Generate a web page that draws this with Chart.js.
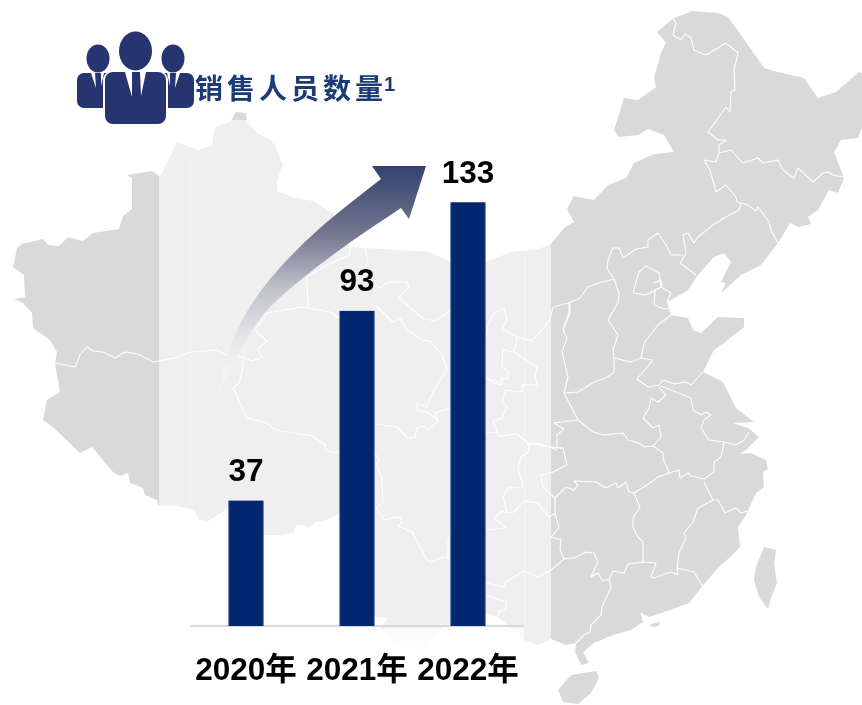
<!DOCTYPE html>
<html>
<head>
<meta charset="utf-8">
<script src="https://cdn.jsdelivr.net/npm/chart.js@4/dist/chart.umd.js"></script>
<style>
  body { margin: 0; background: #fff; }
  #wrap { position: relative; width: 862px; height: 705px; overflow: hidden; }
  #title { position: absolute; left: 195px; top: 68px; color: #1b3a78; white-space: nowrap;
           font: bold 28px "Noto Sans CJK SC", sans-serif; letter-spacing: 4px; line-height: 38px; }
  #title sup { position: absolute; left: 189px; top: 5px; font: bold 20px "Liberation Sans", sans-serif; letter-spacing: 0; }
</style>
</head>
<body>
<div id="wrap">
  <canvas id="salesChart" width="862" height="705"></canvas>
  <div id="title">销售人员数量<sup>1</sup></div>
</div>
<script>
const years = ['2020年', '2021年', '2022年'];
// bar lengths as they are drawn in the picture (the 2022 bar is shorter than its printed number)
const barLengths = [37, 93, 125];
const printedValues = ['37', '93', '133'];

//******************************************************************************
//  Background map, traced by eye: decoration only, not data
//******************************************************************************
const mapOutline = [[230,122],[236,112],[246,113],[247,122],[257,133],[270,140],[275,145],[283,165],[277,180],[277,191],[295,198],[313,201],[333,214],[350,247],[365,248],[430,252],[450,262],[486,262],[511,252],[538,249],[551,244],[564,228],[574,222],[567,209],[574,196],[594,200],[608,185],[626,178],[634,163],[654,154],[674,152],[664,135],[648,129],[638,135],[619,137],[614,130],[624,98],[638,100],[656,87],[654,78],[661,53],[666,43],[657,32],[674,18],[693,11],[718,13],[728,17],[741,35],[764,68],[778,72],[804,78],[818,98],[836,92],[859,72],[862,73],[862,127],[858,138],[841,140],[834,152],[844,178],[838,193],[829,190],[818,210],[808,217],[811,224],[799,227],[790,223],[778,243],[761,265],[741,275],[721,293],[726,283],[721,282],[731,262],[724,253],[714,257],[698,275],[688,290],[676,297],[667,302],[671,315],[688,318],[693,330],[701,333],[718,317],[744,318],[744,327],[724,343],[714,350],[703,372],[723,382],[736,408],[754,422],[733,423],[748,428],[759,437],[746,450],[739,454],[751,453],[766,460],[768,469],[763,472],[764,487],[756,493],[746,515],[738,527],[740,547],[729,558],[716,570],[701,588],[689,603],[678,607],[661,613],[649,617],[640,612],[643,622],[631,630],[613,635],[594,643],[583,652],[589,663],[581,665],[575,652],[576,643],[566,645],[551,639],[538,645],[524,640],[514,630],[498,617],[488,614],[470,618],[445,625],[432,640],[425,655],[410,648],[398,648],[385,635],[380,628],[388,618],[375,617],[372,600],[340,514],[323,521],[315,522],[308,528],[305,525],[297,525],[293,533],[280,535],[264,535],[240,530],[228,508],[207,522],[198,519],[195,510],[173,505],[158,506],[157,500],[145,495],[143,488],[130,483],[128,473],[120,476],[113,472],[92,447],[80,453],[55,429],[43,420],[47,400],[60,392],[55,363],[57,352],[50,340],[33,328],[32,313],[23,303],[14,299],[25,297],[24,275],[13,267],[17,248],[22,244],[43,239],[48,245],[59,246],[68,237],[83,241],[93,233],[119,229],[123,216],[132,209],[132,178],[127,175],[152,171],[159,176],[163,171],[177,142],[198,150],[212,146],[215,127]];
const mapIslands = [
  [[764,547],[776,550],[774,563],[777,583],[771,598],[768,609],[759,597],[754,580],[756,567]],
  [[558,690],[571,675],[596,671],[599,678],[591,693],[578,704],[563,702]],
  [[650,624],[660,622],[659,626],[652,627]]
];
const mapBorders = [
  [[55,363],[75,367],[80,355],[87,347],[93,351],[103,352],[115,358],[125,352],[138,354],[153,362],[175,358],[190,352],[217,350],[227,355],[242,357],[252,361],[263,357],[257,350],[267,341],[255,330],[267,313],[302,307],[330,312],[345,322]],
  [[308,306],[307,277],[327,265],[350,255],[350,247]],
  [[365,248],[368,263],[365,277],[380,288],[388,282],[407,282],[409,287],[399,298],[413,310],[422,318],[435,321],[450,311]],
  [[375,305],[393,322],[401,319],[406,329],[422,340],[430,341],[442,355],[447,370],[437,385],[430,398],[427,407],[417,403],[417,410],[427,412],[435,418],[438,420],[435,413],[450,408]],
  [[375,424],[397,427],[408,438],[415,437],[417,428],[423,426],[428,430],[439,420]],
  [[243,358],[243,367],[239,383],[233,388],[247,418],[267,423],[275,430],[313,436],[325,445],[326,451],[339,453]],
  [[375,453],[380,462],[376,463],[382,480],[383,502],[376,508],[385,520],[393,518],[400,517],[402,522],[398,526],[412,532],[427,560],[431,562],[443,557],[448,558],[448,540],[451,535]],
  [[486,338],[488,325],[493,314],[504,308],[507,320],[502,329],[517,337],[525,339],[532,341],[550,320],[553,307],[568,303],[580,298],[588,287],[599,283],[614,279]],
  [[517,338],[514,352],[503,350],[502,367],[509,372],[508,378],[502,379],[502,385],[493,383],[486,377]],
  [[514,352],[537,367],[535,375],[537,385],[523,385],[522,392],[505,390],[502,402],[507,407],[502,418],[493,421],[497,432],[486,433]],
  [[497,432],[500,436],[517,434],[527,442],[528,445],[537,443],[550,447],[557,450]],
  [[570,303],[570,313],[563,330],[567,338],[562,352],[568,377],[564,393],[578,420],[593,432],[604,435],[623,433],[628,440],[639,443],[644,447],[653,446],[663,453],[663,458],[669,473]],
  [[564,393],[578,392],[594,382],[606,378],[614,372],[614,358],[631,362],[641,358],[653,360],[637,379],[648,387],[659,385],[663,380],[674,384],[686,382],[691,385],[703,372]],
  [[578,420],[554,423],[564,429],[557,435],[557,448],[563,448],[567,465],[553,472],[541,475],[543,487],[555,498],[555,513],[559,528],[551,537],[561,540],[560,550],[564,559],[551,570],[538,577],[524,571],[506,582],[504,587],[486,583]],
  [[563,448],[550,447],[528,443],[529,452],[521,457],[518,468],[523,487],[508,488],[503,497],[507,513],[514,512],[524,501],[538,503],[549,517],[556,513]],
  [[673,18],[676,23],[673,35],[681,40],[685,34],[691,38],[694,50],[706,55],[726,43],[738,53],[734,70],[735,90],[731,92],[730,112],[726,107],[708,132],[718,140],[726,140],[719,145],[719,153],[716,162],[704,160],[710,170],[716,192],[726,185],[736,197],[737,202],[741,203],[739,210],[724,218],[713,225],[698,237],[694,243],[688,233],[683,235],[686,253],[680,263],[696,275]],
  [[719,153],[731,150],[743,163],[758,158],[763,163],[778,160],[783,170],[794,178],[798,168],[813,182],[823,173],[828,172],[833,175],[844,177]],
  [[741,203],[748,205],[756,211],[758,207],[769,222],[771,230],[778,243]],
  [[683,255],[671,255],[666,245],[658,233],[648,240],[648,247],[636,249],[623,258],[619,248],[613,248],[608,260],[607,268],[614,279],[619,293],[618,303],[608,320],[618,335],[613,350],[614,358]],
  [[633,293],[639,272],[646,266],[659,273],[661,287],[671,293],[667,302]],
  [[633,293],[646,295],[661,287]],
  [[653,283],[661,280],[662,287],[655,290],[654,305],[664,309],[671,308]],
  [[671,315],[658,325],[644,343],[641,358]],
  [[569,302],[569,312],[563,330]],
  [[659,387],[666,395],[658,402],[651,398],[649,408],[643,418],[653,428],[659,425],[661,437],[653,446]],
  [[661,386],[691,398],[693,410],[701,415],[706,412],[711,415],[704,420],[701,428],[709,440],[724,442],[736,445],[744,440],[749,432]],
  [[724,443],[721,457],[714,462],[714,472],[704,479],[691,476],[688,473],[680,478],[679,470],[669,473],[658,477],[644,487],[634,493]],
  [[555,498],[566,487],[574,490],[578,485],[574,481],[596,482],[606,488],[616,483],[618,488],[626,482],[629,492],[634,493],[640,507],[633,518],[633,527],[638,537],[643,542],[643,562]],
  [[564,559],[570,558],[574,558],[586,552],[594,553],[598,562],[591,577],[598,573],[603,581],[609,579],[613,571],[624,573],[628,564],[643,562],[656,563],[651,577],[654,578],[671,572],[678,575],[677,568],[694,572],[703,587]],
  [[704,482],[713,500],[698,508],[693,522],[684,533],[686,538],[679,553],[677,570]],
  [[713,500],[718,500],[725,513],[736,508],[741,513],[748,511]],
  [[609,579],[611,588],[602,607],[601,615],[591,625],[590,632],[584,635],[576,643]],
  [[486,530],[506,528],[494,518],[502,511],[507,513]],
  [[486,595],[506,602],[506,608],[499,612],[498,617]],
  [[486,378],[501,383]]
];
const arrowOuter = [[381,179],[337,213],[303,243],[270,278],[245,313],[228,350],[219,390]];
const arrowInner = [[219,390],[242,347],[260,317],[280,297],[310,272],[350,242],[401,208]];

function tracePath(ctx, points) {
  ctx.beginPath();
  points.forEach((p, i) => i ? ctx.lineTo(p[0], p[1]) : ctx.moveTo(p[0], p[1]));
}

// smooth curve through the midpoints, ends stay where they are
function smoothTo(ctx, points) {
  ctx.lineTo(points[0][0], points[0][1]);
  for (let i = 1; i < points.length - 1; i++) {
    ctx.quadraticCurveTo(points[i][0], points[i][1],
      (points[i][0] + points[i + 1][0]) / 2, (points[i][1] + points[i + 1][1]) / 2);
  }
  let last = points[points.length - 1];
  ctx.lineTo(last[0], last[1]);
}

function drawMap(ctx) {
  ctx.fillStyle = '#d9d9d9';
  for (let shape of [mapOutline, ...mapIslands]) {
    tracePath(ctx, shape);
    ctx.closePath();
    ctx.fill();
  }
  ctx.strokeStyle = '#ffffff';
  ctx.lineWidth = 1.1;
  ctx.lineJoin = 'round';
  for (let line of mapBorders) {
    tracePath(ctx, line);
    ctx.stroke();
  }

  // pale panel behind the bars
  ctx.fillStyle = 'rgba(255,255,255,0.57)';
  ctx.fillRect(159, 120, 392, 585);
  ctx.fillStyle = 'rgba(255,255,255,0.2)';
  ctx.fillRect(189, 155, 2, 472);
  ctx.fillRect(524, 155, 2, 472);
  // white-out under the axis
  let fade = ctx.createLinearGradient(0, 627, 0, 660);
  fade.addColorStop(0, 'rgba(255,255,255,0.72)');
  fade.addColorStop(1, 'rgba(255,255,255,1)');
  ctx.fillStyle = fade;
  ctx.fillRect(190, 628, 334, 77);
}

function drawPeopleIcon(ctx) {
  ctx.fillStyle = '#263470';
  for (let cx of [98, 173]) {
    ctx.beginPath();
    ctx.ellipse(cx, 58.5, 11.5, 14, 0, 0, Math.PI * 2);
    ctx.fill();
  }
  ctx.beginPath();
  ctx.roundRect(77, 73, 117, 35, 7);
  ctx.fill();
  // white edge of the front figure, then the figure
  ctx.fillStyle = '#ffffff';
  ctx.beginPath();
  ctx.roundRect(103, 71, 65, 55, 9);
  ctx.fill();
  ctx.fillStyle = '#263470';
  ctx.beginPath();
  ctx.ellipse(135.5, 51, 16.5, 19.5, 0, 0, Math.PI * 2);
  ctx.fill();
  ctx.beginPath();
  ctx.roundRect(105, 72, 61, 52, 8);
  ctx.fill();
  // collars
  ctx.fillStyle = '#ffffff';
  for (let sliver of [
    [[125,72],[132,72],[132,97]], [[140,72],[146,72],[141,96]],
    [[91,73],[95,73],[96,88]], [[101,73],[104,73],[101,86]],
    [[167,73],[170,73],[170,86]], [[176,73],[180,73],[175,88]]
  ]) {
    tracePath(ctx, sliver);
    ctx.closePath();
    ctx.fill();
  }
}

function drawGrowthArrow(ctx) {
  let shade = ctx.createLinearGradient(0, 166, 0, 392);
  shade.addColorStop(0, '#354270');
  shade.addColorStop(0.3, '#73778f');
  shade.addColorStop(0.55, '#c2c4cd');
  shade.addColorStop(0.8, '#ebebee');
  shade.addColorStop(1, 'rgba(250,250,250,0.8)');
  ctx.fillStyle = shade;
  ctx.beginPath();
  ctx.moveTo(426, 166);
  ctx.lineTo(372, 166);
  smoothTo(ctx, arrowOuter);
  smoothTo(ctx, arrowInner);
  ctx.lineTo(409, 219);
  ctx.closePath();
  ctx.fill();
}

const decorPlugin = {
  id: 'decor',
  beforeDraw(chart) {
    const ctx = chart.ctx;
    ctx.save();
    ctx.fillStyle = '#ffffff';
    ctx.fillRect(0, 0, chart.width, chart.height);
    drawMap(ctx);
    drawPeopleIcon(ctx);
    ctx.restore();
  },
  afterDatasetsDraw(chart) {
    const ctx = chart.ctx;
    ctx.save();
    drawGrowthArrow(ctx);
    // numbers above the bars
    ctx.fillStyle = '#000000';
    ctx.font = 'bold 31.5px "Liberation Sans", sans-serif';
    ctx.textAlign = 'center';
    ctx.textBaseline = 'middle';
    chart.getDatasetMeta(0).data.forEach((bar, index) => {
      ctx.fillText(printedValues[index], bar.x, bar.y - 28);
    });
    ctx.restore();
  }
};

new Chart(document.getElementById('salesChart').getContext('2d'), {
  type: 'bar',
  data: {
    labels: years,
    datasets: [{
      data: barLengths,
      backgroundColor: '#00276f',
      borderColor: '#3b5590',
      borderWidth: { left: 1, right: 1, top: 0, bottom: 0 },
      barThickness: 35
    }]
  },
  options: {
    responsive: false,
    animation: false,
    layout: { padding: { left: 190.5, right: 338.5, top: 117.5, bottom: 0 } },
    plugins: { legend: { display: false }, tooltip: { enabled: false } },
    scales: {
      x: {
        afterFit: scale => { scale.height = 79; },
        grid: { display: false },
        border: { color: '#d9d9d9', width: 2 },
        ticks: {
          color: '#000000',
          padding: 18,
          maxRotation: 0,
          autoSkip: false,
          font: { family: '"Liberation Sans", "Noto Sans CJK SC", sans-serif', size: 31.5, weight: 'bold' }
        }
      },
      y: { display: false, min: 0, max: 150 }
    }
  },
  plugins: [decorPlugin]
});
</script>
</body>
</html>
